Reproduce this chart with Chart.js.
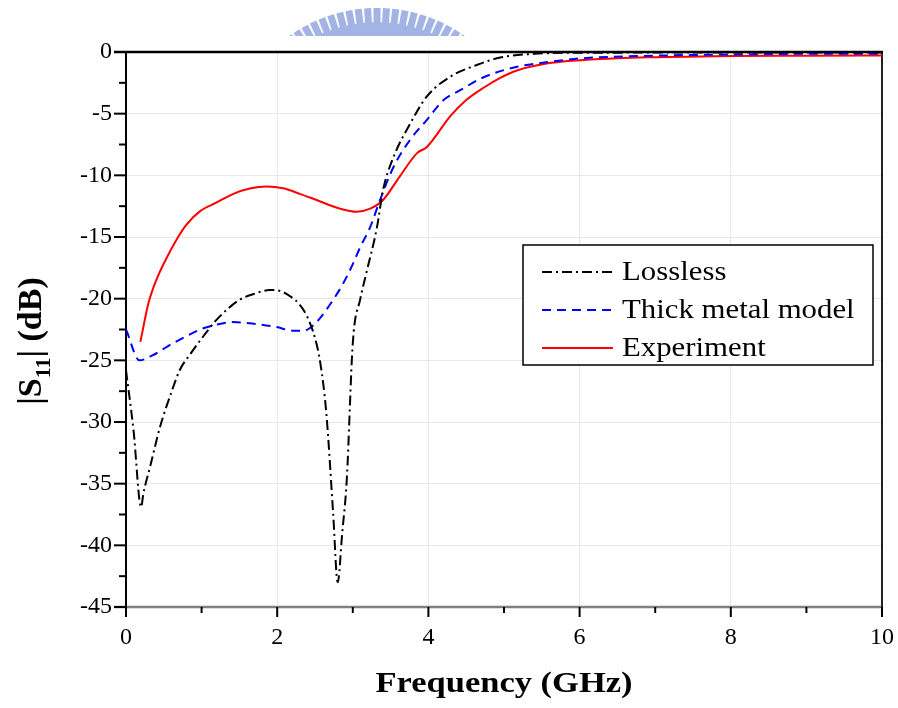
<!DOCTYPE html>
<html>
<head>
<meta charset="utf-8">
<script src="https://cdn.jsdelivr.net/npm/chart.js@4.4.0/dist/chart.umd.min.js"></script>
<style>
html, body { margin: 0; padding: 0; background: #fff; }
#wrap { width: 898px; height: 708px; }
</style>
</head>
<body>
<div id="wrap"><canvas id="s11-chart" width="898" height="708"></canvas></div>
<script>
// Lossless (simulation)
const lossFreq = [0, 0.1, 0.2, 0.23, 0.32, 0.45, 0.6, 0.71, 0.85, 0.98, 1.2, 1.5, 1.7, 1.9, 2.05, 2.17, 2.3, 2.4, 2.5, 2.57, 2.65, 2.74, 2.8, 2.86, 2.92, 3.0, 3.1, 3.18, 3.32, 3.4, 3.54, 3.76, 3.98, 4.29, 4.64, 4.95, 5.4, 6, 7, 8, 9, 10];
const lossS11 = [-25.8, -30.7, -36.9, -35.8, -33.6, -30.4, -27.6, -25.8, -24.5, -23.4, -21.7, -20.1, -19.6, -19.3, -19.4, -19.8, -20.5, -21.5, -23.2, -25.2, -29.3, -37.4, -43.0, -39.0, -34.7, -23.6, -20.0, -17.9, -14.2, -11.2, -8.5, -5.8, -3.6, -2.0, -1.05, -0.45, -0.15, -0.06, -0.05, -0.05, -0.05, -0.05];

// Thick metal model
const thickFreq = [0, 0.18, 0.35, 0.54, 0.75, 0.98, 1.2, 1.42, 1.64, 1.99, 2.21, 2.35, 2.43, 2.55, 2.65, 2.75, 2.87, 3.0, 3.1, 3.23, 3.36, 3.54, 3.76, 3.98, 4.2, 4.42, 4.73, 5.17, 5.6, 6.05, 7, 8, 9, 10];
const thickS11 = [-22.5, -25.0, -24.6, -23.9, -23.2, -22.5, -22.1, -21.9, -22.0, -22.3, -22.6, -22.6, -22.4, -21.7, -20.9, -20.0, -18.8, -17.2, -15.8, -14.2, -12.0, -9.3, -7.1, -5.5, -3.9, -3.1, -2.05, -1.2, -0.8, -0.5, -0.3, -0.2, -0.15, -0.15];

// Experiment
const expFreq = [0.19, 0.3, 0.4, 0.52, 0.67, 0.8, 0.98, 1.2, 1.42, 1.65, 1.86, 2.08, 2.3, 2.52, 2.83, 3.05, 3.23, 3.4, 3.62, 3.85, 3.98, 4.29, 4.5, 4.73, 4.95, 5.17, 5.6, 6.05, 6.5, 7, 8, 9, 10];
const expS11 = [-23.5, -20.3, -18.5, -16.9, -15.2, -14.0, -12.9, -12.2, -11.5, -11.05, -10.9, -11.05, -11.5, -12.0, -12.7, -12.95, -12.7, -12.0, -10.1, -8.2, -7.7, -5.2, -3.9, -2.9, -2.1, -1.5, -0.9, -0.65, -0.5, -0.42, -0.32, -0.3, -0.28];

const seriesLabels = ['Lossless', 'Thick metal model', 'Experiment'];
const xRange = [0, 10];
const yRange = [-45, 0];
const xMajorStep = 2, xMinorStep = 1;
const yMajorStep = 5, yMinorStep = 2.5;

const SERIF = '"Liberation Serif", "Times New Roman", serif';

function toPoints(xs, ys) {
    return xs.map((x, i) => ({ x: x, y: ys[i] }));
}

// faint logo behind the top of the plot
const logoPlugin = {
    id: 'logo',
    beforeDraw(chart) {
        const ctx = chart.ctx;
        const cx = 377, cy = 160, R = 152;
        ctx.save();
        ctx.beginPath();
        ctx.rect(280, 0, 200, 36);
        ctx.clip();
        ctx.fillStyle = '#a3b4e4';
        ctx.beginPath();
        ctx.arc(cx, cy, R - 14, 0, Math.PI * 2);
        ctx.fill();
        for (let a = -Math.PI / 2 - 0.62; a <= -Math.PI / 2 + 0.63; a += 0.062) {
            ctx.save();
            ctx.translate(cx, cy);
            ctx.rotate(a + Math.PI / 2);
            ctx.fillRect(-3.5, -R, 7, 20);
            ctx.restore();
        }
        ctx.restore();
    }
};

// frame, minor/major ticks
const framePlugin = {
    id: 'frame',
    beforeDatasetsDraw(chart) {
        const ctx = chart.ctx;
        const a = chart.chartArea;
        const xs = chart.scales.x, ys = chart.scales.y;
        ctx.save();
        ctx.lineCap = 'butt';
        // bottom axis
        ctx.strokeStyle = '#808080';
        ctx.lineWidth = 2.5;
        ctx.beginPath();
        ctx.moveTo(a.left - 12, a.bottom);
        ctx.lineTo(a.right + 1, a.bottom);
        ctx.stroke();
        // right
        ctx.strokeStyle = '#222';
        ctx.lineWidth = 2;
        ctx.beginPath();
        ctx.moveTo(a.right, a.top);
        ctx.lineTo(a.right, a.bottom + 10);
        ctx.stroke();
        // top
        ctx.strokeStyle = '#000';
        ctx.lineWidth = 2.5;
        ctx.beginPath();
        ctx.moveTo(a.left - 12, a.top);
        ctx.lineTo(a.right + 1, a.top);
        ctx.stroke();
        // left
        ctx.lineWidth = 2;
        ctx.beginPath();
        ctx.moveTo(a.left, a.top);
        ctx.lineTo(a.left, a.bottom + 10);
        ctx.stroke();

        ctx.strokeStyle = '#000';
        ctx.lineWidth = 2;
        for (let v = yRange[0]; v <= yRange[1] + 0.001; v += yMinorStep) {
            const y = ys.getPixelForValue(v);
            const major = Math.abs(v % yMajorStep) < 0.001;
            ctx.beginPath();
            ctx.moveTo(a.left, y);
            ctx.lineTo(a.left - (major ? 12 : 7), y);
            ctx.stroke();
        }
        for (let v = xRange[0]; v <= xRange[1] + 0.001; v += xMinorStep) {
            const x = xs.getPixelForValue(v);
            const major = Math.abs(v % xMajorStep) < 0.001;
            ctx.beginPath();
            ctx.moveTo(x, a.bottom);
            ctx.lineTo(x, a.bottom + (major ? 10 : 6));
            ctx.stroke();
        }
        ctx.restore();
    }
};

function wideText(ctx, text, x, y, sx) {
    ctx.save();
    ctx.translate(x, y);
    ctx.scale(sx, 1);
    ctx.fillText(text, 0, 0);
    ctx.restore();
}

// legend box inside the plot + axis titles
const annotatePlugin = {
    id: 'annotate',
    afterDraw(chart) {
        const ctx = chart.ctx;
        const a = chart.chartArea;
        ctx.save();

        // legend
        const bx = 523, by = 245, bw = 350, bh = 120;
        ctx.fillStyle = '#fff';
        ctx.fillRect(bx, by, bw, bh);
        ctx.strokeStyle = '#000';
        ctx.lineWidth = 1.5;
        ctx.strokeRect(bx, by, bw, bh);
        ctx.font = '28px ' + SERIF;
        ctx.textBaseline = 'middle';
        chart.data.datasets.forEach((ds, i) => {
            const y = by + 27 + i * 38;
            ctx.strokeStyle = ds.borderColor;
            ctx.lineWidth = 2;
            ctx.setLineDash(ds.borderDash || []);
            ctx.beginPath();
            ctx.moveTo(bx + 19, y);
            ctx.lineTo(bx + 90, y);
            ctx.stroke();
            ctx.setLineDash([]);
            ctx.fillStyle = '#000';
            ctx.textAlign = 'left';
            wideText(ctx, ds.label, bx + 99, y + 1, 1.1);
        });

        // x title
        ctx.fillStyle = '#000';
        ctx.font = 'bold 30px ' + SERIF;
        ctx.textAlign = 'center';
        ctx.textBaseline = 'alphabetic';
        wideText(ctx, 'Frequency (GHz)', (a.left + a.right) / 2, 692, 1.15);

        // y title with subscript
        ctx.translate(41, 341);
        ctx.rotate(-Math.PI / 2);
        const big = 'bold 34px ' + SERIF, small = 'bold 22px ' + SERIF;
        ctx.font = big;
        const w1 = ctx.measureText('|S').width;
        const w3 = ctx.measureText('| (dB)').width;
        ctx.font = small;
        const w2 = ctx.measureText('11').width;
        let x0 = -(w1 + w2 + w3) / 2;
        ctx.textAlign = 'left';
        ctx.font = big;
        ctx.fillText('|S', x0, 0);
        ctx.font = small;
        ctx.fillText('11', x0 + w1, 9);
        ctx.font = big;
        ctx.fillText('| (dB)', x0 + w1 + w2, 0);
        ctx.restore();
    }
};

const ctx = document.getElementById('s11-chart');
new Chart(ctx, {
    type: 'line',
    data: {
        datasets: [{
            label: seriesLabels[0],
            data: toPoints(lossFreq, lossS11),
            borderColor: '#000000',
            borderWidth: 2,
            borderDash: [10, 4, 2, 4],
            pointRadius: 0,
            cubicInterpolationMode: 'monotone',
            fill: false
        }, {
            label: seriesLabels[1],
            data: toPoints(thickFreq, thickS11),
            borderColor: '#0000ff',
            borderWidth: 2,
            borderDash: [9, 6],
            pointRadius: 0,
            cubicInterpolationMode: 'monotone',
            fill: false
        }, {
            label: seriesLabels[2],
            data: toPoints(expFreq, expS11),
            borderColor: '#ff0000',
            borderWidth: 2,
            pointRadius: 0,
            cubicInterpolationMode: 'monotone',
            fill: false
        }]
    },
    options: {
        responsive: false,
        animation: false,
        devicePixelRatio: 1,
        layout: { padding: { top: 52, right: 16, left: 0, bottom: 0 } },
        plugins: {
            legend: { display: false },
            tooltip: { enabled: false }
        },
        scales: {
            x: {
                type: 'linear',
                min: xRange[0],
                max: xRange[1],
                afterFit: function(scale) {
                    scale.height = 101;
                    scale.paddingLeft = 0;
                    scale.paddingRight = 0;
                },
                ticks: {
                    stepSize: xMajorStep,
                    color: '#000',
                    padding: 16,
                    maxRotation: 0,
                    font: { family: SERIF, size: 24 }
                },
                grid: {
                    color: '#e8e8e8',
                    lineWidth: 1,
                    drawTicks: false
                },
                border: { display: false }
            },
            y: {
                type: 'linear',
                min: yRange[0],
                max: yRange[1],
                afterFit: function(scale) { scale.width = 126; },
                ticks: {
                    stepSize: yMajorStep,
                    color: '#000',
                    padding: 14,
                    font: { family: SERIF, size: 24 }
                },
                grid: {
                    color: '#e8e8e8',
                    lineWidth: 1,
                    drawTicks: false
                },
                border: { display: false }
            }
        }
    },
    plugins: [logoPlugin, framePlugin, annotatePlugin]
});
</script>
</body>
</html>
